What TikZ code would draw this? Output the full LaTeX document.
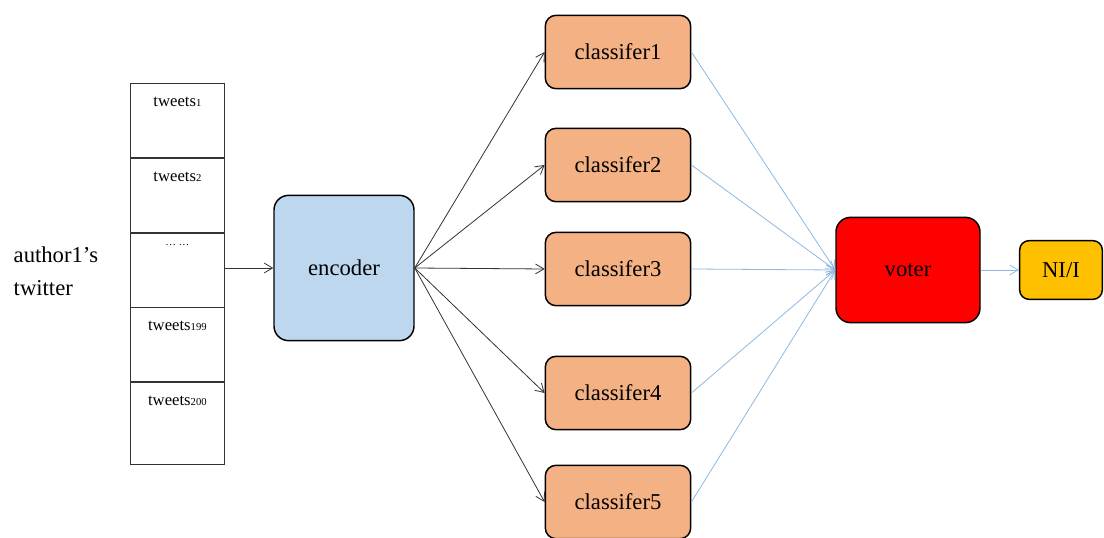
\documentclass[tikz,border=0pt]{standalone}
\usepackage{fontspec}
\setmainfont{Liberation Serif}
\usetikzlibrary{positioning,arrows.meta}
\definecolor{EncBlue}{HTML}{BDD7EE}
\definecolor{ClsOrange}{HTML}{F4B183}
\definecolor{VoteRed}{HTML}{FF0000}
\definecolor{OutGold}{HTML}{FFC000}
\definecolor{LinkBlue}{HTML}{8FB8E0}

\begin{document}
\begin{tikzpicture}[
  x=0.75pt, y=-0.75pt,
  big/.style={font=\fontsize{17}{20}\selectfont},
  box/.style={draw=black, line width=1.1pt, rounded corners=11pt, align=center, big, inner sep=0pt},
  encbox/.style={box, fill=EncBlue, minimum width=105pt, minimum height=109pt},
  clsbox/.style={box, fill=ClsOrange, minimum width=109pt, minimum height=55pt, rounded corners=8pt},
  votebox/.style={box, fill=VoteRed, minimum width=108pt, minimum height=79pt},
  outbox/.style={box, fill=OutGold, minimum width=62pt, minimum height=44pt, rounded corners=7pt},
  cell/.style={draw=black!80, line width=0.6pt, minimum width=70.5pt, minimum height=55.5pt, inner sep=0pt},
  celltext/.style={font=\fontsize{12.5}{14}\selectfont, anchor=north},
  arrow/.style={-{Straight Barb[length=2.2mm, width=2.6mm]}, line width=0.6pt, draw=black!80},
  bluearrow/.style={arrow, draw=LinkBlue}
]
\useasboundingbox (0,0) rectangle (1104,538);
% tweets stack
\node[cell, anchor=north west] (t1) at (130,83) {};
\node[cell, below=0pt of t1] (t2) {};
\node[cell, below=0pt of t2] (tdots) {};
\node[cell, below=0pt of tdots] (t199) {};
\node[cell, below=0pt of t199, minimum height=61.5pt] (t200) {};
\node[celltext] at ([yshift=-7pt]t1.north) {tweets{\footnotesize 1}};
\node[celltext] at ([yshift=-7pt]t2.north) {tweets{\footnotesize 2}};
\node[celltext] at ([yshift=-5pt]tdots.north) {\footnotesize \dots\ \dots};
\node[celltext] at ([yshift=-7pt]t199.north) {tweets{\footnotesize 199}};
\node[celltext] at ([yshift=-7pt]t200.north) {tweets{\footnotesize 200}};
\node[big, align=left, anchor=west] (author) at (9,271) {author1's\\[5pt]twitter};
% boxes
\node[encbox] (encoder) at (344,268) {encoder};
\node[clsbox] (cls1) at (618,52) {classifer1};
\node[clsbox] (cls2) at (618,165) {classifer2};
\node[clsbox] (cls3) at (618,269) {classifer3};
\node[clsbox] (cls4) at (618,393) {classifer4};
\node[clsbox] (cls5) at (618,502) {classifer5};
\node[votebox] (voter) at (908,270) {voter};
\node[outbox] (out) at (1061,270) {NI/I};
% connectors
\draw[arrow] (tdots.east |- encoder.west) -- (encoder.west);
\foreach \i in {1,...,5} {
  \draw[arrow] (encoder.east) -- (cls\i.west);
  \draw[bluearrow] (cls\i.east) -- (voter.west);
}
\draw[bluearrow] (voter.east) -- (out.west);
\end{tikzpicture}
\end{document}
